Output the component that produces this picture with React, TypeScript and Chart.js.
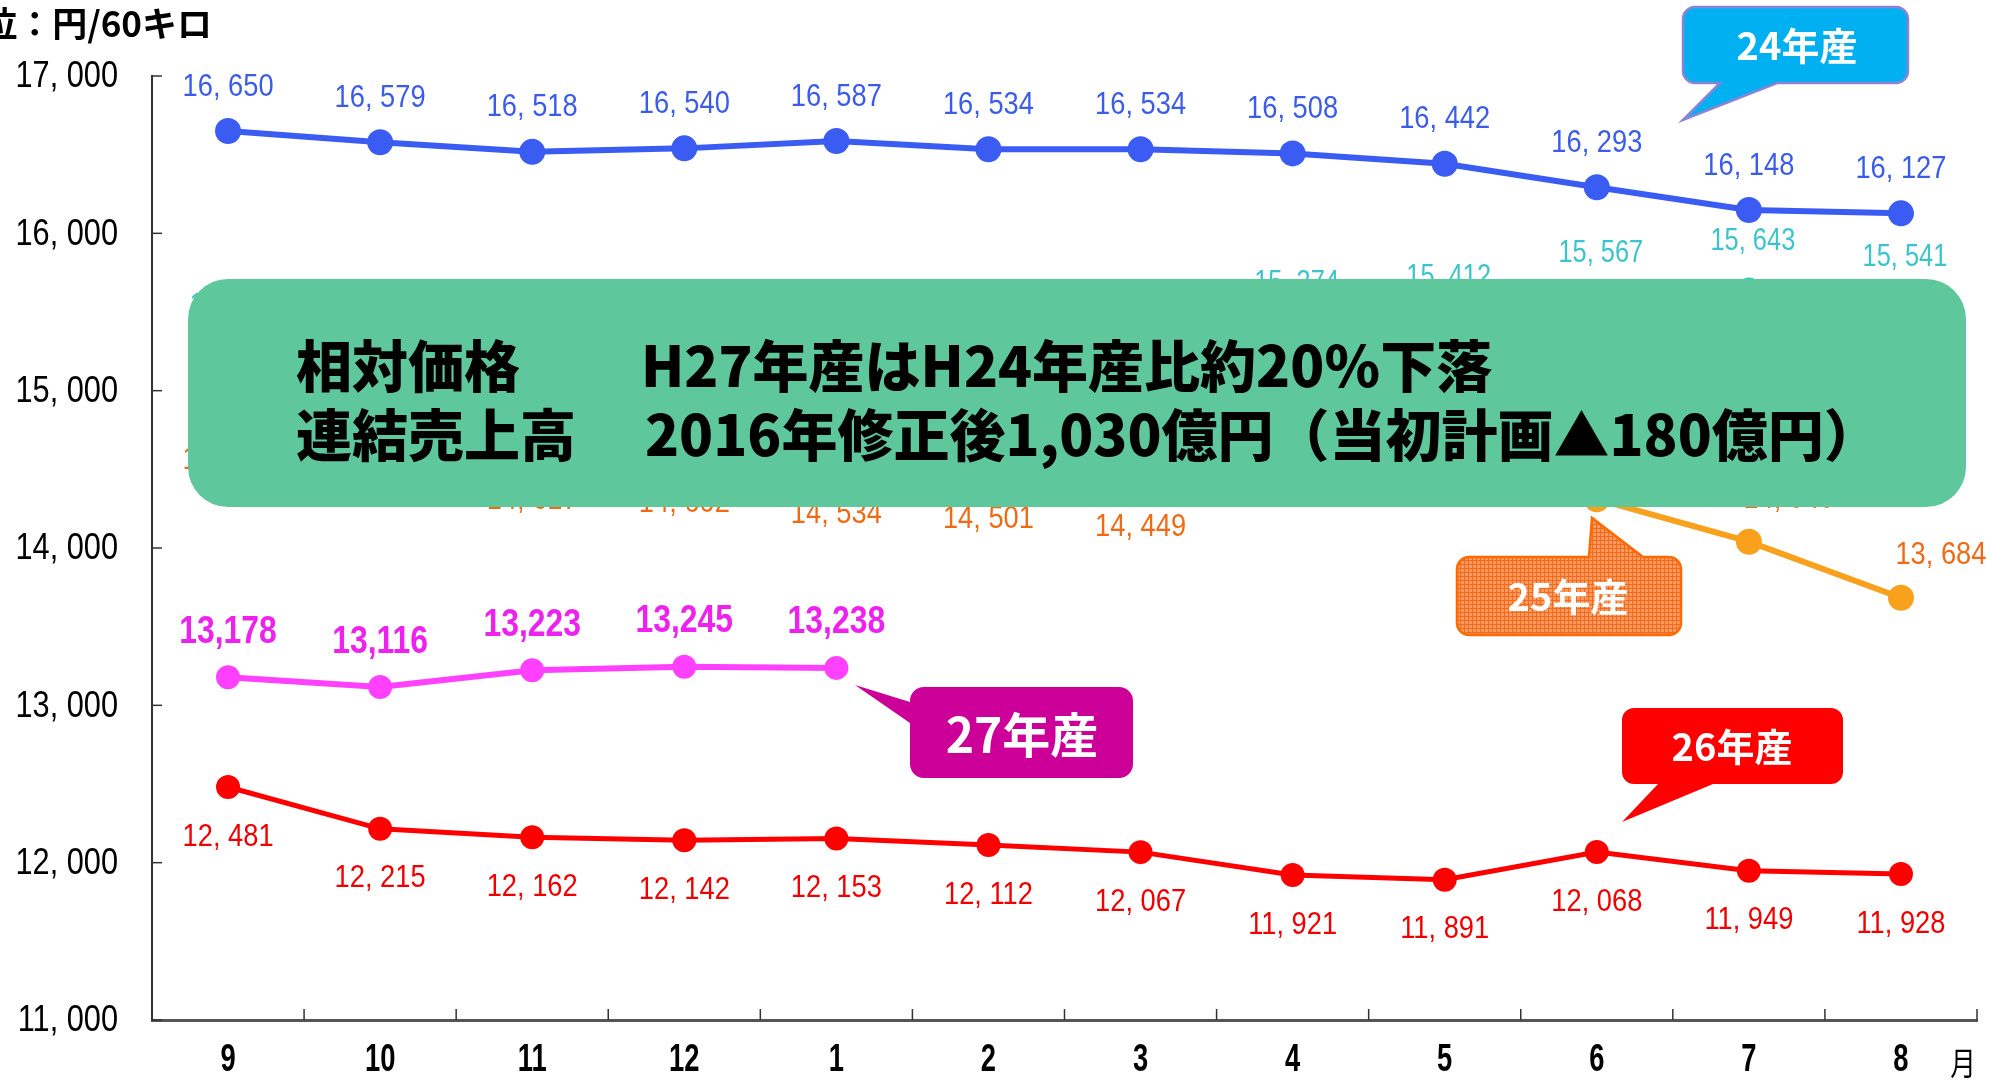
import React, { useEffect, useRef } from 'react';
import { Chart, registerables } from 'chart.js';

Chart.register(...registerables);

// ---- data ----
const months = ['9', '10', '11', '12', '1', '2', '3', '4', '5', '6', '7', '8'];
const yMin = 11000;
const yMax = 17000;
const yStep = 1000;
const crop24 = [16650, 16579, 16518, 16540, 16587, 16534, 16534, 16508, 16442, 16293, 16148, 16127];
const crop23 = [15228, 15243, 15192, 15177, 15172, 15317, 15303, 15374, 15412, 15567, 15643, 15541];
const crop25 = [14877, 14754, 14617, 14602, 14534, 14501, 14449, 14390, 14355, 14310, 14040, 13684];
const crop26 = [12481, 12215, 12162, 12142, 12153, 12112, 12067, 11921, 11891, 12068, 11949, 11928];
const crop27 = [13178, 13116, 13223, 13245, 13238, null, null, null, null, null, null, null];
const unitLabel = '単位：円/60キロ';
const monthUnit = '月';
const boxLine1 = ['相対価格', 'H27年産はH24年産比約20％下落'];
const boxLine2 = ['連結売上高', '2016年修正後1,030億円（当初計画▲180億円）'];
const calloutTexts = ['24年産', '25年産', '26年産', '27年産'];

const SANS = '"Liberation Sans", Arial, sans-serif';
const JP = '"Noto Sans CJK JP", "Noto Sans", sans-serif';

const fmtSpace = (v: number) => `${Math.floor(v / 1000)}, ${String(v % 1000).padStart(3, '0')}`;
const fmtComma = (v: number) => v.toLocaleString('en-US');

type LabelStyle = {
  color: string;
  font: string;
  sx: number;
  dy: number;
  dx?: number;
  fmt: (v: number) => string;
  above?: (i: number) => boolean;
  aboveDy?: number;
  aboveDx?: number;
};

const labelStyles: LabelStyle[] = [
  { color: '#3b5ce8', font: `31px ${SANS}`, sx: 0.88, dy: -44, fmt: fmtSpace },
  { color: '#3cc4cc', font: `31px ${SANS}`, sx: 0.82, dy: -48, dx: 4, fmt: fmtSpace },
  {
    color: '#f06a14', font: `31px ${SANS}`, sx: 0.88, dy: 50, fmt: fmtSpace,
    above: (i) => i >= 7, aboveDy: -42, aboveDx: 40,
  },
  { color: '#f00000', font: `31px ${SANS}`, sx: 0.88, dy: 50, fmt: fmtSpace },
  { color: '#ee22ee', font: `bold 38px ${SANS}`, sx: 0.84, dy: -45, fmt: fmtComma },
];

function narrowText(
  ctx: CanvasRenderingContext2D, text: string, x: number, y: number,
  font: string, sx: number, align: CanvasTextAlign,
) {
  ctx.save();
  ctx.translate(x, y);
  ctx.scale(sx, 1);
  ctx.font = font;
  ctx.textAlign = align;
  ctx.textBaseline = 'middle';
  ctx.fillText(text, 0, 0);
  ctx.restore();
}

function calloutPath(
  ctx: CanvasRenderingContext2D,
  x: number, y: number, w: number, h: number, r: number,
  side: 'top' | 'bottom' | 'left', b1: number, b2: number, tx: number, ty: number,
) {
  ctx.beginPath();
  ctx.moveTo(x + r, y);
  if (side === 'top') {
    ctx.lineTo(b1, y);
    ctx.lineTo(tx, ty);
    ctx.lineTo(b2, y);
  }
  ctx.lineTo(x + w - r, y);
  ctx.arcTo(x + w, y, x + w, y + r, r);
  ctx.lineTo(x + w, y + h - r);
  ctx.arcTo(x + w, y + h, x + w - r, y + h, r);
  if (side === 'bottom') {
    ctx.lineTo(b2, y + h);
    ctx.lineTo(tx, ty);
    ctx.lineTo(b1, y + h);
  }
  ctx.lineTo(x + r, y + h);
  ctx.arcTo(x, y + h, x, y + h - r, r);
  if (side === 'left') {
    ctx.lineTo(x, b2);
    ctx.lineTo(tx, ty);
    ctx.lineTo(x, b1);
  }
  ctx.lineTo(x, y + r);
  ctx.arcTo(x, y, x + r, y, r);
  ctx.closePath();
}

function meshPattern(ctx: CanvasRenderingContext2D) {
  const c = document.createElement('canvas');
  c.width = 4;
  c.height = 4;
  const p = c.getContext('2d')!;
  p.fillStyle = '#f99a60';
  p.fillRect(0, 0, 4, 4);
  p.fillStyle = '#f26a1c';
  p.fillRect(0, 0, 4, 1);
  p.fillRect(0, 0, 1, 4);
  return ctx.createPattern(c, 'repeat')!;
}

const decorPlugin = {
  id: 'decor',
  afterDatasetsDraw(chart: any) {
    const ctx: CanvasRenderingContext2D = chart.ctx;
    chart.data.datasets.forEach((ds: any, di: number) => {
      const st = labelStyles[di];
      const meta = chart.getDatasetMeta(di);
      ctx.save();
      ctx.fillStyle = st.color;
      meta.data.forEach((pt: any, i: number) => {
        const v = ds.data[i];
        if (v == null) return;
        const up = st.above && st.above(i);
        const dx = up ? st.aboveDx || 0 : st.dx || 0;
        const dy = up ? st.aboveDy || 0 : st.dy;
        narrowText(ctx, st.fmt(v), pt.x + dx, pt.y + dy, st.font, st.sx, 'center');
      });
      ctx.restore();
    });
  },
  afterDraw(chart: any) {
    const ctx: CanvasRenderingContext2D = chart.ctx;
    const xs = chart.scales.x;
    const ys = chart.scales.y;
    const area = chart.chartArea;
    ctx.save();
    // inward ticks and tick labels
    ctx.strokeStyle = '#333';
    ctx.lineWidth = 1.5;
    ctx.fillStyle = '#000';
    ys.ticks.forEach((t: any) => {
      const py = ys.getPixelForValue(t.value);
      ctx.beginPath();
      ctx.moveTo(area.left, py);
      ctx.lineTo(area.left + 10, py);
      ctx.stroke();
      narrowText(ctx, fmtSpace(t.value), area.left - 34, py + 1, `37px ${SANS}`, 0.83, 'right');
    });
    for (let i = 0; i < months.length; i++) {
      const bx = i < months.length - 1
        ? (xs.getPixelForValue(i) + xs.getPixelForValue(i + 1)) / 2
        : area.right;
      ctx.beginPath();
      ctx.moveTo(bx, area.bottom);
      ctx.lineTo(bx, area.bottom - 11);
      ctx.stroke();
      narrowText(ctx, months[i], xs.getPixelForValue(i), 1061, `bold 38px ${SANS}`, 0.72, 'center');
    }
    // unit labels
    ctx.fillStyle = '#000';
    ctx.font = `bold 35px ${JP}`;
    ctx.textAlign = 'right';
    ctx.textBaseline = 'middle';
    ctx.fillText(unitLabel, 212, 24);
    narrowText(ctx, monthUnit, 1963, 1063, `32px ${JP}`, 0.8, 'center');

    // green message box
    ctx.fillStyle = '#5ec89c';
    ctx.beginPath();
    ctx.roundRect(188, 279, 1778, 228, 40);
    ctx.fill();
    ctx.fillStyle = '#000';
    ctx.font = `900 56px ${JP}`;
    ctx.textAlign = 'left';
    ctx.textBaseline = 'middle';
    ctx.fillText(boxLine1[0], 296, 366);
    ctx.fillText(boxLine1[1], 641, 366);
    ctx.fillText(boxLine2[0], 296, 435);
    ctx.fillText(boxLine2[1], 645, 435);

    // callouts
    const drawCallout = (
      text: string, fill: any, stroke: string | null, fontPx: number,
      x: number, y: number, w: number, h: number, r: number,
      side: 'top' | 'bottom' | 'left', b1: number, b2: number, tx: number, ty: number,
      cx: number, cy: number,
    ) => {
      calloutPath(ctx, x, y, w, h, r, side, b1, b2, tx, ty);
      ctx.fillStyle = fill;
      ctx.fill();
      if (stroke) {
        ctx.strokeStyle = stroke;
        ctx.lineWidth = 2.5;
        ctx.stroke();
      }
      ctx.fillStyle = '#fff';
      ctx.font = `bold ${fontPx}px ${JP}`;
      ctx.textAlign = 'center';
      ctx.textBaseline = 'middle';
      ctx.fillText(text, cx, cy);
    };
    drawCallout(calloutTexts[0], '#00b0f0', '#8d83d6', 38, 1683, 7, 225, 76, 12, 'bottom', 1720, 1777, 1683, 120, 1797, 46);
    drawCallout(calloutTexts[1], meshPattern(ctx), '#ff6a00', 38, 1457, 557, 224, 78, 12, 'top', 1589, 1643, 1592, 518, 1568, 597);
    drawCallout(calloutTexts[2], '#ff0000', null, 38, 1622, 708, 221, 76, 12, 'bottom', 1658, 1713, 1622, 822, 1732, 747);
    drawCallout(calloutTexts[3], '#cc0099', null, 48, 910, 687, 223, 91, 14, 'left', 702, 723, 855, 685, 1022, 735);
    ctx.restore();
  },
};

export default function App() {
  const ref = useRef<HTMLCanvasElement | null>(null);
  useEffect(() => {
    if (!ref.current) return;
    const mk = (label: string, data: (number | null)[], color: string, width: number, radius: number) => ({
      label,
      data,
      borderColor: color,
      backgroundColor: color,
      pointBackgroundColor: color,
      pointBorderColor: color,
      pointBorderWidth: 0,
      borderWidth: width,
      pointRadius: radius,
      tension: 0,
      spanGaps: false,
    });
    const chart = new Chart(ref.current, {
      type: 'line',
      data: {
        labels: months,
        datasets: [
          mk('24年産', crop24, '#3a5cf2', 6, 13),
          mk('23年産', crop23, '#1cd0dc', 5, 12),
          mk('25年産', crop25, '#f9a01c', 6, 13),
          mk('26年産', crop26, '#ff0000', 5, 12),
          mk('27年産', crop27, '#ff40ff', 6, 12),
        ],
      },
      options: {
        animation: false,
        responsive: false,
        devicePixelRatio: 1,
        events: [],
        layout: { padding: { top: 76, right: 14, left: 0, bottom: 0 } },
        plugins: { legend: { display: false }, tooltip: { enabled: false }, title: { display: false } },
        scales: {
          x: {
            type: 'category',
            offset: true,
            grid: { display: false },
            border: { display: true, color: '#555', width: 3 },
            ticks: { display: false, autoSkip: false },
            afterFit: (s: any) => { s.height = 61; },
          },
          y: {
            min: yMin,
            max: yMax,
            grid: { display: false },
            border: { display: true, color: '#333', width: 2 },
            ticks: { display: false, stepSize: yStep },
            afterFit: (s: any) => { s.width = 152; },
          },
        },
      },
      plugins: [decorPlugin],
    } as any);
    return () => chart.destroy();
  }, []);
  return (
    <div style={{ position: 'fixed', left: 0, top: 0, width: 1991, height: 1081, background: '#fff' }}>
      <canvas ref={ref} width={1991} height={1081} style={{ display: 'block', width: 1991, height: 1081 }} />
    </div>
  );
}
